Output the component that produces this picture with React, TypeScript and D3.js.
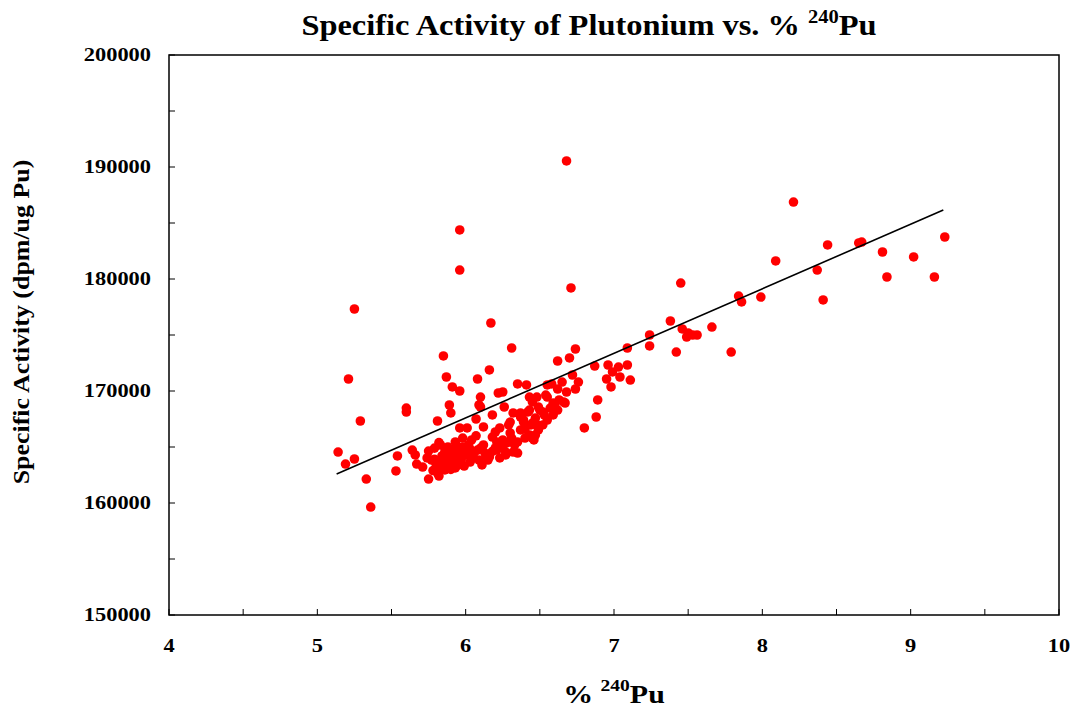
import React from 'react';
import * as d3 from 'd3';

// ---- Data ----
const xTicks = [4, 5, 6, 7, 8, 9, 10];
const xMinorTicks = [4.5, 5.5, 6.5, 7.5, 8.5, 9.5];
const yTicks = [150000, 160000, 170000, 180000, 190000, 200000];
const yMinorTicks = [155000, 165000, 175000, 185000, 195000];

// [% 240Pu, specific activity dpm/ug Pu]
const lowPoints: [number, number][] = [
  [5.14, 164550], [5.19, 163480], [5.21, 171070], [5.25, 177320], [5.25, 163930],
  [5.29, 167320], [5.33, 162140], [5.36, 159640], [5.53, 162860], [5.54, 164200],
  [5.60, 168480], [5.60, 168120], [5.64, 164730], [5.66, 164290], [5.67, 163480],
];

const midLowPoints: [number, number][] = [
  [5.71, 163210], [5.75, 162140], [5.74, 164020], [5.75, 164640], [5.77, 163840],
  [5.81, 167320], [5.81, 162680], [5.82, 162410], [5.83, 165180], [5.83, 163300],
  [5.85, 173130], [5.87, 171250], [5.87, 164460], [5.89, 168750], [5.90, 168040],
  [5.91, 170360], [5.93, 165450], [5.85, 163840], [5.86, 162950], [5.89, 163570],
  [5.91, 164110], [5.93, 163130], [5.96, 170000], [5.96, 166700], [5.96, 184380],
  [5.96, 180800], [5.98, 165000], [5.97, 163840], [5.95, 164550], [5.98, 165800],
  [5.99, 163300], [5.79, 164900], [5.80, 163500], [5.84, 164200], [5.88, 165000],
  [5.90, 163000], [5.92, 164700], [5.94, 163900], [5.97, 164300], [5.78, 162900],
  [5.82, 165400], [5.86, 164600], [5.88, 163900], [5.92, 163600], [5.95, 163400],
  [5.99, 164600], [5.94, 165100], [5.90, 164400], [5.84, 163200], [5.79, 163900],
];

const clusterPoints: [number, number][] = [
  [6.01, 166700], [6.00, 164290], [6.03, 163660], [6.04, 165630], [6.06, 164550],
  [6.08, 164730], [6.07, 167500], [6.08, 171070], [6.09, 168750], [6.10, 169460],
  [6.10, 168570], [6.09, 163840], [6.12, 165180], [6.14, 164200], [6.15, 163840],
  [6.16, 164110], [6.16, 171880], [6.17, 176070], [6.18, 167860], [6.18, 165890],
  [6.21, 164730], [6.22, 169820], [6.25, 169910], [6.26, 168570], [6.23, 166700],
  [6.25, 165630], [6.27, 164550], [6.29, 166970], [6.31, 173840], [6.31, 165800],
  [6.33, 165180], [6.35, 164460], [6.35, 170630], [6.37, 168040], [6.37, 166520],
  [6.39, 167410], [6.40, 165800], [6.41, 170540], [6.42, 168130], [6.43, 169460],
  [6.44, 166970], [6.47, 167590], [6.47, 166070], [6.48, 169460], [6.50, 168300],
  [6.49, 166520], [6.46, 165630], [6.12, 166790], [6.20, 166340], [6.21, 165450],
  [6.30, 167230], [6.30, 166250], [6.32, 168040], [6.35, 165450], [6.37, 167680],
  [6.39, 167230], [6.43, 166070], [6.43, 168300], [6.45, 167140], [6.45, 165800],
  [6.49, 168570], [6.25, 164910], [6.32, 164550], [6.13, 164460], [6.15, 164020],
  [6.23, 164020], [6.27, 164290], [6.20, 164910], [6.45, 169020], [6.02, 165200],
  [6.05, 164000], [6.07, 166000], [6.11, 163400], [6.03, 164800], [6.04, 164200],
  [6.10, 164900], [6.18, 164600], [6.28, 165400], [6.40, 166600], [6.48, 167000],
];

const midHighPoints: [number, number][] = [
  [6.55, 170540], [6.55, 169460], [6.57, 168480], [6.58, 170630], [6.62, 170180],
  [6.62, 172680], [6.65, 170800], [6.68, 169910], [6.70, 172950], [6.68, 190540],
  [6.71, 179200], [6.72, 171430], [6.74, 173750], [6.76, 170800], [6.74, 170180],
  [6.80, 166700], [6.87, 172230], [6.88, 167680], [6.89, 169200], [6.53, 167860],
  [6.55, 167410], [6.60, 168660], [6.63, 169200], [6.52, 166970], [6.54, 169640],
  [6.59, 167860], [6.66, 169020], [6.67, 168930], [6.62, 168300], [6.59, 168930],
  [6.52, 168130],
];

const highPoints: [number, number][] = [
  [6.95, 171070], [6.96, 172320], [6.98, 170360], [6.99, 171700], [7.03, 172140],
  [7.04, 171250], [7.09, 173840], [7.09, 172320], [7.11, 170980], [7.24, 175000],
  [7.24, 174020], [7.38, 176250], [7.42, 173480], [7.46, 175540], [7.45, 179640],
  [7.49, 174820], [7.50, 175180], [7.53, 175000], [7.56, 175000], [7.66, 175710],
  [7.79, 173480], [7.84, 178480], [7.86, 177950], [7.99, 178390], [8.09, 181610],
  [8.21, 186870], [8.37, 180800], [8.41, 178130], [8.44, 183040], [8.65, 183220],
  [8.67, 183300], [8.81, 182410], [8.84, 180180], [9.02, 181970], [9.16, 180180],
  [9.23, 183750],
];

const trendLine: [number, number][] = [[5.13, 162590], [9.22, 186160]];

const FONT = '"Liberation Serif", "Times New Roman", serif';

export default function App() {
  const W = 1073;
  const H = 708;
  const left = 169, right = 1059, top = 55, bottom = 615;
  const x = d3.scaleLinear().domain([4, 10]).range([left, right]);
  const y = d3.scaleLinear().domain([150000, 200000]).range([bottom, top]);
  const line = d3.line<[number, number]>().x(d => x(d[0])).y(d => y(d[1]));
  const allPoints = [...lowPoints, ...midLowPoints, ...clusterPoints, ...midHighPoints, ...highPoints];
  const tickLen = 6;
  const sx = 1.18;

  return (
    <svg width={W} height={H} style={{ position: 'absolute', left: 0, top: 0, background: '#fff' }}
      fontFamily={FONT} fontWeight="bold">
      <rect x={0} y={0} width={W} height={H} fill="#fff" />
      {/* Title */}
      <text transform={`translate(589, 35) scale(1.08, 1)`} textAnchor="middle" fontSize={30}>
        Specific Activity of Plutonium vs. %{' '}
        <tspan fontSize={19} dy={-12}>240</tspan>
        <tspan dy={12}>Pu</tspan>
      </text>

      {/* Points */}
      <g fill="#ff0000">
        {allPoints.map((d, i) => (
          <circle key={i} cx={x(d[0])} cy={y(d[1])} r={4.8} />
        ))}
      </g>

      {/* Trend line */}
      <path d={line(trendLine) || ''} fill="none" stroke="#000" strokeWidth={1.6} />

      {/* Frame */}
      <rect x={left} y={top} width={right - left} height={bottom - top} fill="none" stroke="#000" strokeWidth={1.5} />

      {/* Y ticks */}
      {[...yTicks, ...yMinorTicks].map(t => (
        <line key={'yt' + t} x1={left} x2={left + tickLen} y1={y(t)} y2={y(t)} stroke="#000" strokeWidth={1} />
      ))}
      {yTicks.map(t => (
        <text key={'yl' + t} transform={`translate(151, ${y(t) + 6}) scale(${sx}, 1)`} textAnchor="end" fontSize={19}>{t}</text>
      ))}

      {/* X ticks */}
      {[...xTicks, ...xMinorTicks].map(t => (
        <line key={'xt' + t} x1={x(t)} x2={x(t)} y1={bottom} y2={bottom - tickLen} stroke="#000" strokeWidth={1} />
      ))}
      {xTicks.map(t => (
        <text key={'xl' + t} transform={`translate(${x(t)}, 652) scale(${sx}, 1)`} textAnchor="middle" fontSize={19}>{t}</text>
      ))}

      {/* Axis titles */}
      <text transform={`translate(29, 322) rotate(-90) scale(1.08, 1)`} textAnchor="middle" fontSize={24}>
        Specific Activity (dpm/ug Pu)
      </text>
      <text transform={`translate(614, 703) scale(1.15, 1)`} textAnchor="middle" fontSize={26}>
        %{'  '}
        <tspan fontSize={17} dy={-12}>240</tspan>
        <tspan dy={12}>Pu</tspan>
      </text>
    </svg>
  );
}
